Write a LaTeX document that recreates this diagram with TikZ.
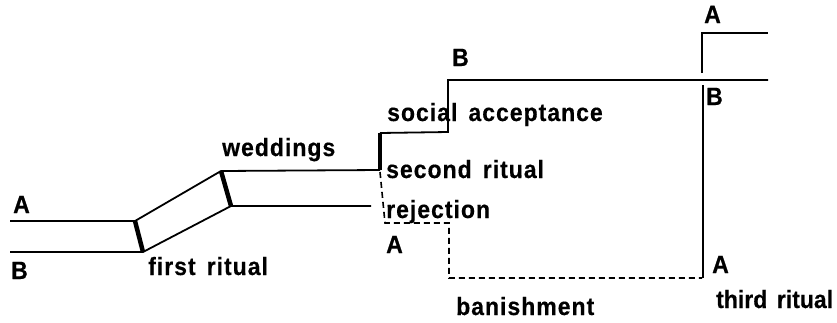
\documentclass[tikz,border=0pt]{standalone}
\usepackage{fontspec}
\setmainfont{Liberation Sans}[BoldFont={* Bold}]
\newfontfamily\lblfont{Liberation Sans Bold}[LetterSpace=4,WordSpace=1.5,FakeStretch=0.92,FakeBold=0.4]
\begin{document}
\begin{tikzpicture}[x=1pt,y=-1pt,
  lbl/.style={anchor=base west,inner sep=0pt,font=\lblfont\fontsize{25}{28}\selectfont},
  thin line/.style={line width=1.8pt,line cap=butt,line join=miter},
  thick line/.style={line width=4.5pt,line cap=butt},
  dash line/.style={line width=1.6pt,dash pattern=on 6pt off 4pt}]
\useasboundingbox (0,0) rectangle (837,322);
% coordinates
\coordinate (aL) at (10,221);
\coordinate (bL) at (10,252);
\coordinate (r1a) at (135,221);
\coordinate (r1b) at (143,252);
\coordinate (r2a) at (221,171);
\coordinate (r2b) at (231,206);
\coordinate (s2a) at (380,170);
\coordinate (s2b) at (380,133);
\coordinate (lowEnd) at (371,206);
\coordinate (st1) at (448,132);
\coordinate (st2) at (448,80);
\coordinate (bR) at (768,80);
\coordinate (d0) at (380,172);
\coordinate (d1) at (385,223);
\coordinate (d2) at (449,223);
\coordinate (d3) at (449,278);
\coordinate (d4) at (702,278);
\coordinate (v1) at (703,278);
\coordinate (v2) at (703,85);
\coordinate (u1) at (702,73);
\coordinate (u2) at (702,33);
\coordinate (aR) at (768,33);
% lines
\draw[thin line] (aL) -- (r1a) -- (r2a) -- (s2a);
\draw[thin line] (bL) -- (r1b) -- (r2b) -- (lowEnd);
\draw[thick line] (r1a) -- (r1b);
\draw[thick line] (r2a) -- (r2b);
\draw[thick line] (s2a) -- (s2b);
\draw[thin line] (s2b) -- (st1) -- (st2) -- (bR);
\draw[dash line] (d0) -- (d1) -- (d2) -- (d3) -- (d4);
\draw[thin line] (v1) -- (v2);
\draw[thin line] (u1) -- (u2) -- (aR);
% labels
\node[lbl] (tA1) at (13,213) {A};
\node[lbl] (tB1) at (11,279) {B};
\node[lbl] (tfirst) at (148,275) {first ritual};
\node[lbl] (twed) at (222,156) {weddings};
\node[lbl] (tsoc) at (387,121) {social acceptance};
\node[lbl] (tB2) at (452,66) {B};
\node[lbl] (tsec) at (386,178) {second ritual};
\node[lbl] (trej) at (386,218) {rejection};
\node[lbl] (tA2) at (386,253) {A};
\node[lbl] (tban) at (456,315) {banishment};
\node[lbl] (tA3) at (712,273) {A};
\node[lbl] (tthird) at (716,308) {\addfontfeature{LetterSpace=0}third ritual};
\node[lbl] (tB3) at (706,105) {B};
\node[lbl] (tA4) at (704,23) {A};
\end{tikzpicture}
\end{document}
